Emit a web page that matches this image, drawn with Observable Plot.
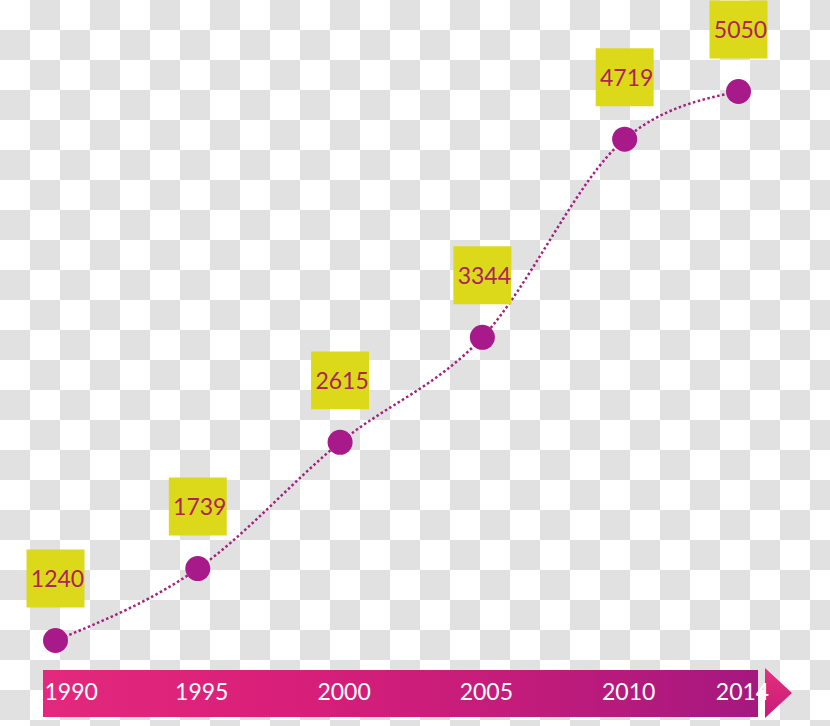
<!DOCTYPE html>
<html>
<head>
<meta charset="utf-8">
<script src="https://cdn.jsdelivr.net/npm/d3@7"></script>
<script src="https://cdn.jsdelivr.net/npm/@observablehq/plot@0.6"></script>
<style>
  html, body { margin: 0; padding: 0; }
  body {
    width: 830px; height: 726px; overflow: hidden;
    background: repeating-conic-gradient(#e1e1e1 0% 25%, #ffffff 0% 50%) 0 0 / 60px 60px;
  }
  #wrap { position: relative; width: 830px; height: 726px; }
  #bar {
    position: absolute; left: 43px; top: 670px; width: 715px; height: 47px;
    background: linear-gradient(to right, #e3297d 0%, #d81f79 35%, #c41c7b 65%, #a5187f 100%);
  }
  #arrow {
    position: absolute; left: 765px; top: 668px; width: 27px; height: 50px;
    background: linear-gradient(to bottom, #e5307f, #c81a78);
    clip-path: polygon(0 0, 100% 50%, 0 100%);
  }
  #chart { position: absolute; left: 0; top: 0; }
</style>
</head>
<body>
<div id="wrap">
  <div id="bar"></div>
  <div id="arrow"></div>
  <div id="chart"></div>
</div>
<script>
const years = [1990, 1995, 2000, 2005, 2010, 2014];
const values = [1240, 1739, 2615, 3344, 4719, 5050];
const tickYears = [1990, 1995, 2000, 2005, 2010, 2014];

const data = years.map((year, i) => ({year, value: values[i]}));

const font = "Lato, 'Open Sans', sans-serif";

const plot = Plot.plot({
  width: 830,
  height: 726,
  margin: 0,
  style: {background: "transparent", fontFamily: font},
  x: {domain: [1990, 2014], range: [55, 738], axis: null},
  y: {domain: [1240, 5050], range: [640, 91], axis: null},
  marks: [
    Plot.line(data, {
      x: "year", y: "value", curve: "monotone-x",
      stroke: "#a3217f", strokeWidth: 2.5, strokeDasharray: "2.5,2.5",
      strokeLinecap: "butt"
    }),
    Plot.dot(data, {x: "year", y: "value", r: 12.5, fill: "#a81a8a", stroke: "none"}),
    Plot.dot(data, {
      x: "year", y: "value", symbol: "square", r: 32.7,
      fill: "#dcd81a", stroke: "none", dy: -62
    }),
    Plot.text(data, {
      x: "year", y: "value", text: d => String(d.value), dy: -61, dx: 2,
      fill: "#ad2459", fontSize: 23, fontFamily: font
    }),
    Plot.text(tickYears.slice(0, 1), {
      x: d => d, text: d => String(d), frameAnchor: "bottom", dy: -27, dx: -11,
      textAnchor: "start", fill: "white", fontSize: 23, fontFamily: font
    }),
    Plot.text(tickYears.slice(1), {
      x: d => d, text: d => String(d), frameAnchor: "bottom", dy: -27, dx: 4,
      fill: "white", fontSize: 23, fontFamily: font
    })
  ]
});
document.getElementById("chart").appendChild(plot);
</script>
</body>
</html>
